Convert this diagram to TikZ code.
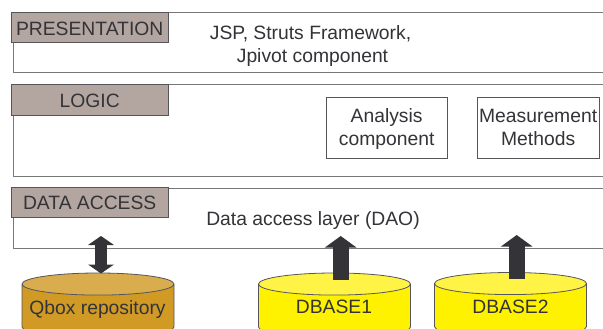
\documentclass[tikz,border=0pt]{standalone}
\usepackage{fontspec}
\setmainfont{Liberation Sans}
\usetikzlibrary{shapes.geometric,arrows.meta}
\definecolor{txt}{HTML}{333338}
\definecolor{edge}{HTML}{55555A}
\definecolor{rule}{HTML}{77777A}
\definecolor{tabfill}{HTML}{B3A6A1}
\newcommand{\firstline}{\rule{0pt}{19.6pt}}
\newcommand{\lastline}{\rule[-6.9pt]{0pt}{6.9pt}}
\newcommand{\storesize}{\phantom{\strut DBASE1}}
\tikzset{
  lbl/.style={text=txt,font=\fontsize{19.3}{23}\selectfont,align=center,inner sep=0pt},
  tabbox/.style={lbl,draw=edge,line width=0.9pt,fill=tabfill,minimum width=157.5pt,minimum height=30.5pt,anchor=north west,text height=14.8pt,text depth=0pt},
  layerline/.style={draw=rule,line width=0.9pt},
  compbox/.style={lbl,draw=edge,line width=0.8pt,fill=white,minimum width=121.5pt,minimum height=60.5pt,anchor=north west},
  store/.style={lbl,draw=edge,line width=0.8pt,cylinder,shape border rotate=90,aspect=0.29,cylinder uses custom fill,
     minimum width=152pt,minimum height=65pt,outer sep=0pt,anchor=north},
  storetext/.style={lbl,anchor=base},
  blockup/.style={line width=16pt,color=txt,-{Triangle[width=31pt,length=11.5pt]}},
  blockboth/.style={line width=12.6pt,color=txt,{Triangle[width=25.5pt,length=9pt]}-{Triangle[width=25.5pt,length=9pt]}},
}
\begin{document}
\begin{tikzpicture}[x=1pt,y=-1pt]
\useasboundingbox (0,0) rectangle (603,329);
\clip (0,0) rectangle (603,329);
\fill[white] (0,0) rectangle (603,329);
% layers
\draw[layerline] (603,12) -- (13.5,12) -- (13.5,72) -- (603,72);
\draw[layerline] (603,84.5) -- (13.5,84.5) -- (13.5,176) -- (603,176);
\draw[layerline] (603,188) -- (13.5,188) -- (13.5,248.7) -- (603,248.7);
\node[tabbox] (pres) at (10.5,12) {PRESENTATION};
\node[tabbox] (logic) at (10.5,84.5) {LOGIC};
\node[tabbox] (data) at (10.5,186.5) {DATA ACCESS};
\node[lbl] (prestext) at (310.5,46) {JSP, Struts Framework,\\\hspace*{4pt}Jpivot component};
\node[lbl] (datatext) at (313,221) {Data access layer (DAO)};
\node[compbox] (analysis) at (325.5,97) {\firstline Analysis\\component\lastline};
\node[compbox] (measure) at (477,97) {\firstline Measurement\\Methods\lastline};
% stores
\node[store,cylinder body fill={rgb,255:red,208;green,154;blue,37},cylinder end fill={rgb,255:red,217;green,172;blue,78}] (qbox) at (98,273) {\storesize};
\node[store,cylinder body fill={rgb,255:red,255;green,242;blue,0},cylinder end fill={rgb,255:red,255;green,243;blue,69}] (db1) at (334.5,273) {\storesize};
\node[store,cylinder body fill={rgb,255:red,255;green,242;blue,0},cylinder end fill={rgb,255:red,255;green,243;blue,69}] (db2) at (510.5,272.5) {\storesize};
\node[storetext] (qboxtext) at (97.5,314) {Qbox repository};
\node[storetext] (db1text) at (334,313.5) {DBASE1};
\node[storetext] (db2text) at (510.5,313.3) {DBASE2};
% arrows
\coordinate (qtip) at (101,236);
\coordinate (qbase) at (101,273.5);
\coordinate (d1tip) at (340.7,236);
\coordinate (d1base) at (340.7,280);
\coordinate (d2tip) at (516.7,235);
\coordinate (d2base) at (516.7,279);
\draw[blockboth] (qbase) -- (qtip);
\draw[blockup] (d1base) -- (d1tip);
\draw[blockup] (d2base) -- (d2tip);
\end{tikzpicture}
\end{document}
